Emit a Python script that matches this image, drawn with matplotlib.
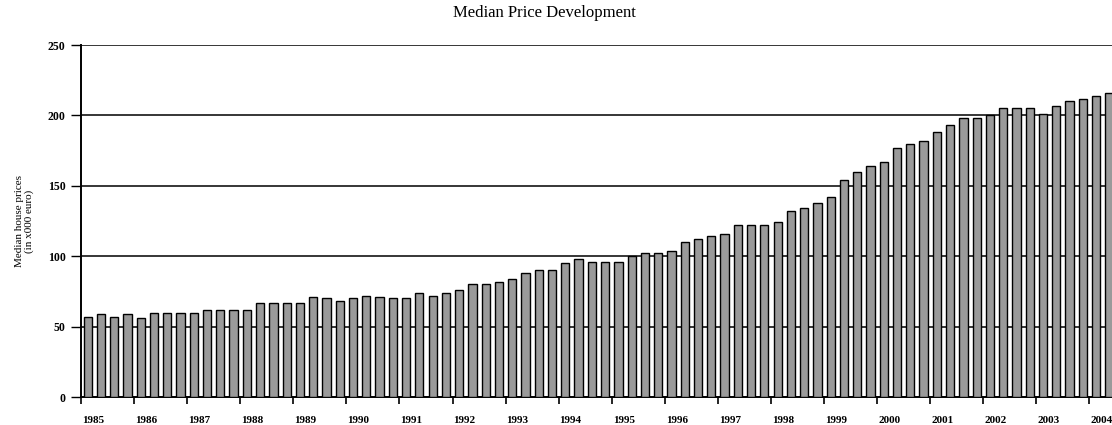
import numpy as np
import matplotlib
matplotlib.use("Agg")
import matplotlib.pyplot as plt

# quarterly median house prices (x1000 euro)
years = list(range(1985, 2005))
prices = [
    57, 59, 57, 59,      # 1985
    56, 60, 60, 60,      # 1986
    60, 62, 62, 62,      # 1987
    62, 67, 67, 67,      # 1988
    67, 71, 70, 68,      # 1989
    70, 72, 71, 70,      # 1990
    70, 74, 72, 74,      # 1991
    76, 80, 80, 82,      # 1992
    84, 88, 90, 90,      # 1993
    95, 98, 96, 96,      # 1994
    96, 100, 102, 102,   # 1995
    104, 110, 112, 114,  # 1996
    116, 122, 122, 122,  # 1997
    124, 132, 134, 138,  # 1998
    142, 154, 160, 164,  # 1999
    167, 177, 180, 182,  # 2000
    188, 193, 198, 198,  # 2001
    200, 205, 205, 205,  # 2002
    201, 207, 210, 212,  # 2003
    214, 216,            # 2004
]
yticks = [0, 50, 100, 150, 200, 250]

serif = "Liberation Serif"

fig = plt.figure(figsize=(11.12, 4.25), dpi=100)
ax = fig.add_axes([81 / 1112, 28 / 425, 1 - 81 / 1112, 352 / 425])

x = np.arange(len(prices))
ax.bar(x, prices, width=0.62, color="#9a9a9a", edgecolor="black", linewidth=1.0, zorder=3)

ax.set_ylim(0, 250)
ax.set_xlim(-0.5, 77.2)
ax.set_yticks(yticks)
ax.set_yticklabels([str(v) for v in yticks], fontfamily=serif, fontweight="bold", fontsize=8.5)
for v in yticks[1:]:
    ax.axhline(v, color="black", linewidth=1.1, zorder=2)

# year boundaries as ticks, labels slightly right of them
ax.set_xticks([4 * i - 0.5 for i in range(len(years))])
ax.set_xticklabels([])
ax.set_xticks([4 * i + 0.4 for i in range(len(years))], minor=True)
ax.set_xticklabels([str(y) for y in years], minor=True, fontfamily=serif,
                   fontweight="bold", fontsize=8)
ax.tick_params(axis="x", which="minor", length=0, pad=14)
ax.tick_params(axis="x", which="major", length=5, width=1.2, color="black")
ax.tick_params(axis="y", length=7, width=1.0, pad=4)

for s in ["top", "right"]:
    ax.spines[s].set_visible(False)
ax.spines["left"].set_linewidth(1.4)
ax.spines["bottom"].set_linewidth(1.4)

ax.set_ylabel("Median house prices\n(in x000 euro)", fontfamily=serif, fontsize=8,
              linespacing=1.0, labelpad=10)

fig.text(544 / 1112, 1 - 13 / 425, "Median Price Development", fontfamily=serif,
         fontsize=12, ha="center", va="center")

fig.savefig("out.png", dpi=100)
